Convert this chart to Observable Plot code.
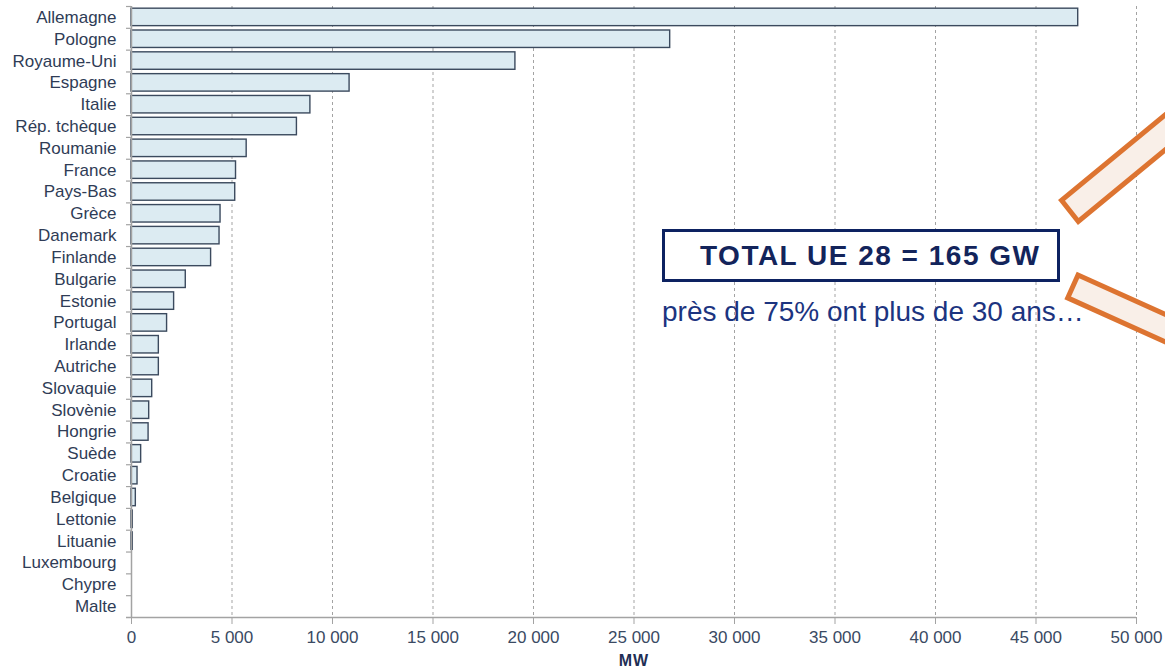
<!DOCTYPE html>
<html>
<head>
<meta charset="utf-8">
<script src="https://cdn.jsdelivr.net/npm/d3@7"></script>
<script src="https://cdn.jsdelivr.net/npm/@observablehq/plot@0.6"></script>
<style>
  html, body { margin: 0; padding: 0; background: #ffffff; }
  #wrap { position: relative; width: 1165px; height: 669px; overflow: hidden; font-family: "Liberation Sans", Arial, sans-serif; }
  #chart svg { display: block; }
  #chart [aria-label="x-axis label"] { font-weight: bold; font-size: 16px; letter-spacing: 1px; fill: #1f2f55; }
  .total-box {
    position: absolute; left: 662px; top: 229px; width: 398px; height: 53px;
    box-sizing: border-box; border: 3px solid #0d2261; background: #ffffff;
  }
  .total-box span {
    position: absolute; left: 35px; top: 0; line-height: 48px;
    font-size: 28px; font-weight: bold; color: #13245b; letter-spacing: 1.5px; white-space: nowrap;
  }
  .note {
    position: absolute; left: 662px; top: 298px; font-size: 28px; line-height: 28px;
    color: #1c3480; white-space: nowrap;
  }
  #deco { position: absolute; left: 0; top: 0; pointer-events: none; }
</style>
</head>
<body>
<div id="wrap">
  <div id="chart"></div>
  <div class="total-box"><span>TOTAL UE 28 = 165 GW</span></div>
  <div class="note">près de 75% ont plus de 30 ans…</div>
  <svg id="deco" width="1165" height="669">
    <polygon points="1061.5,200.3 1078.3,221.5 1232.5,94.5 1215.5,73.3" fill="#f9efe8" stroke="#dd7431" stroke-width="5" stroke-linejoin="miter"/>
    <polygon points="1078,275 1067.7,297.9 1250,380 1260,357" fill="#f9efe8" stroke="#dd7431" stroke-width="5" stroke-linejoin="miter"/>
  </svg>
</div>
<script>
// Coal-fired capacity by EU country (MW)
const countries = [
  "Allemagne", "Pologne", "Royaume-Uni", "Espagne", "Italie", "Rép. tchèque", "Roumanie",
  "France", "Pays-Bas", "Grèce", "Danemark", "Finlande", "Bulgarie", "Estonie", "Portugal",
  "Irlande", "Autriche", "Slovaquie", "Slovènie", "Hongrie", "Suède", "Croatie", "Belgique",
  "Lettonie", "Lituanie", "Luxembourg", "Chypre", "Malte"
];
const capacityMW = [
  47100, 26800, 19100, 10850, 8900, 8230, 5730,
  5200, 5160, 4430, 4380, 3960, 2700, 2120, 1770,
  1360, 1360, 1030, 880, 850, 480, 300, 215,
  65, 65, 0, 0, 0
];
const xTicks = [0, 5000, 10000, 15000, 20000, 25000, 30000, 35000, 40000, 45000, 50000];
const xLabel = "MW";

const data = countries.map((c, i) => ({country: c, mw: capacityMW[i]}));

const W = 1165, H = 669, mT = 6, mB = 52, mL = 131, mR = 29;
const step = (H - mT - mB) / countries.length;
const frameW = W - mL - mR;
const fmt = d => d3.format(",")(d).replace(/,/g, " ");
const gray = "#a3a3a3";
const textColor = "#2f3c56";

const chart = Plot.plot({
  width: W, height: H,
  marginTop: mT, marginBottom: mB, marginLeft: mL, marginRight: mR,
  style: {fontFamily: "'Liberation Sans', Arial, sans-serif", fontSize: "17px", color: textColor, background: "transparent"},
  x: {domain: [0, 50000], label: null},
  y: {domain: countries, paddingInner: 0.2, paddingOuter: 0.1, round: false, label: null},
  marks: [
    Plot.ruleX(xTicks.slice(1), {stroke: gray, strokeDasharray: "3,3", strokeWidth: 1}),
    Plot.barX(data, {x: "mw", y: "country", fill: "#dcebf2", stroke: "#3b4a5e", strokeWidth: 1.4}),
    Plot.ruleX([0], {stroke: gray, strokeWidth: 1.5}),
    Plot.ruleY(countries, {dy: -step / 2, insetLeft: -5, insetRight: frameW, stroke: gray, strokeWidth: 1.2}),
    Plot.ruleY([countries[countries.length - 1]], {dy: step / 2, insetLeft: -5, stroke: gray, strokeWidth: 1.5}),
    Plot.axisY({tickSize: 0, tickPadding: 15, fill: textColor, label: null}),
    Plot.axisX(xTicks, {tickSize: 7, tickFormat: () => "", stroke: gray, label: null}),
    Plot.axisX(xTicks, {tickSize: 0, tickPadding: 13, tickFormat: fmt, fill: "#3a4a63",
      label: xLabel, labelAnchor: "center", labelArrow: "none", labelOffset: 48})
  ]
});
document.getElementById("chart").appendChild(chart);
</script>
</body>
</html>
